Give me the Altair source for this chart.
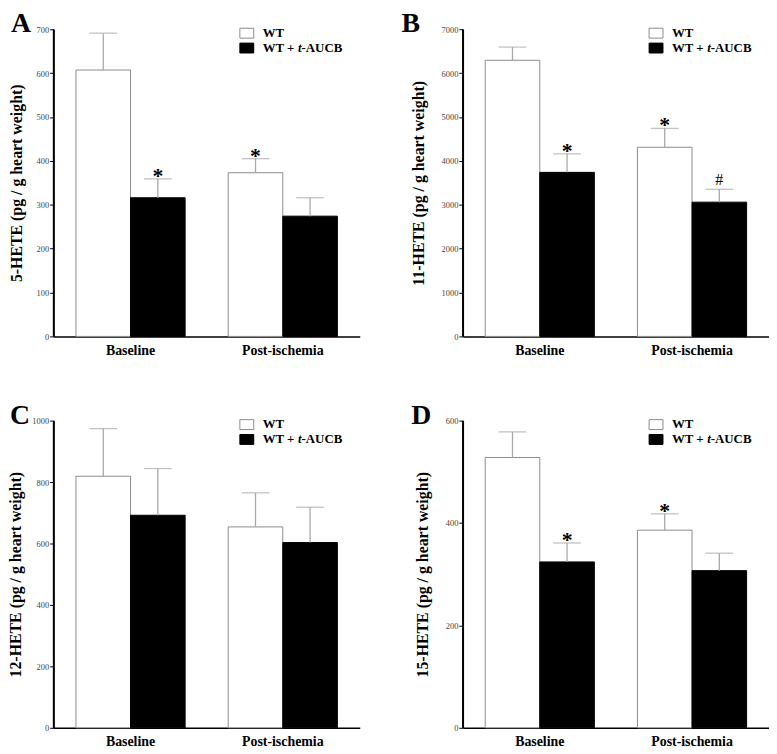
import altair as alt
import pandas as pd

SERIF = "Liberation Serif"

categories = ["Baseline", "Post-ischemia"]
groups = ["WT", "WT + t-AUCB"]

# Panel A: 5-HETE
a_wt = [607, 373]
a_wt_sem = [84, 32]
a_tr = [316, 274]
a_tr_sem = [43, 42]
a_sig_wt = ["", "*"]
a_sig_tr = ["*", ""]

# Panel B: 11-HETE
b_wt = [6292, 4310]
b_wt_sem = [302, 430]
b_tr = [3738, 3059]
b_tr_sem = [422, 294]
b_sig_wt = ["", "*"]
b_sig_tr = ["*", "#"]

# Panel C: 12-HETE
c_wt = [819, 654]
c_wt_sem = [155, 111]
c_tr = [692, 603]
c_tr_sem = [152, 115]
c_sig_wt = ["", ""]
c_sig_tr = ["", ""]

# Panel D: 15-HETE
d_wt = [528, 386]
d_wt_sem = [50, 32]
d_tr = [324, 307]
d_tr_sem = [37, 34]
d_sig_wt = ["", "*"]
d_sig_tr = ["*", ""]


def make_df(wt, wt_sem, tr, tr_sem, sig_wt, sig_tr):
    rows = []
    for i, cat in enumerate(categories):
        rows.append({"category": cat, "group": groups[0], "mean": wt[i],
                     "top": wt[i] + wt_sem[i], "sig": sig_wt[i]})
        rows.append({"category": cat, "group": groups[1], "mean": tr[i],
                     "top": tr[i] + tr_sem[i], "sig": sig_tr[i]})
    return pd.DataFrame(rows)


one = pd.DataFrame({"k": [0]})


def panel(df, letter, letter_dx, ytitle, ymax, ystep, title_pad):
    xenc = alt.X(
        "category:N", sort=categories,
        scale=alt.Scale(domain=categories, paddingInner=0.283, paddingOuter=0.147),
        axis=alt.Axis(title=None, labelAngle=0, ticks=False, labelPadding=7,
                      domain=True, domainColor="black", domainWidth=1.5),
    )
    xoff = alt.XOffset("group:N", sort=groups,
                       scale=alt.Scale(domain=groups, paddingInner=0, paddingOuter=0))
    yscale = alt.Scale(domain=[0, ymax], nice=False, zero=True)
    yaxis = alt.Axis(values=list(range(0, ymax + 1, ystep)), format="d", title=ytitle,
                     titlePadding=title_pad, domain=True, domainColor="black",
                     domainWidth=1.5, domainOpacity=1, ticks=True, tickColor="black")
    base = alt.Chart(df).encode(x=xenc, xOffset=xoff)
    bars = base.mark_bar(strokeWidth=1).encode(
        y=alt.Y("mean:Q", scale=yscale, axis=yaxis),
        fill=alt.Fill("group:N", scale=alt.Scale(domain=groups, range=["white", "black"]), legend=None),
        stroke=alt.Stroke("group:N", scale=alt.Scale(domain=groups, range=["#8c8c8c", "black"]), legend=None),
    )
    rules = base.mark_rule(color="#a8a8a8", strokeWidth=1.3).encode(
        y=alt.Y("mean:Q", scale=yscale, axis=yaxis), y2="top:Q")
    caps = base.mark_tick(color="#a8a8a8", thickness=1.3, size=28).encode(
        y=alt.Y("top:Q", scale=yscale, axis=yaxis))
    stars = base.transform_filter("datum.sig == '*'").mark_text(
        font=SERIF, fontSize=22, fontWeight="bold", baseline="alphabetic", dy=4, color="black"
    ).encode(y=alt.Y("top:Q", scale=yscale, axis=yaxis), text="sig:N")
    hashes = base.transform_filter("datum.sig == '#'").mark_text(
        font=SERIF, fontSize=16, fontWeight="normal", baseline="alphabetic", dy=-4, color="black"
    ).encode(y=alt.Y("top:Q", scale=yscale, axis=yaxis), text="sig:N")

    lg = alt.Chart(one)
    # y-axis line (drawn through the y scale, from 0 to the axis maximum)
    yline = lg.mark_rule(color="black", strokeWidth=1.5).encode(
        x=alt.value(0), y=alt.datum(0), y2=alt.datum(ymax))
    sw1 = lg.mark_rect(fill="white", stroke="#8c8c8c", strokeWidth=1).encode(
        x=alt.value(188), x2=alt.value(202), y=alt.value(-1), y2=alt.value(9))
    sw2 = lg.mark_rect(fill="black", stroke="black", strokeWidth=1).encode(
        x=alt.value(188), x2=alt.value(202), y=alt.value(14), y2=alt.value(24))
    tstyle = dict(font=SERIF, fontSize=13, fontWeight="bold", align="left",
                  baseline="alphabetic", color="black")
    t1 = lg.mark_text(text="WT", **tstyle).encode(x=alt.value(211), y=alt.value(7.5))
    t2 = lg.mark_text(text="WT + ", **tstyle).encode(x=alt.value(211), y=alt.value(23))
    t3 = lg.mark_text(text="t", fontStyle="italic", **tstyle).encode(x=alt.value(246.6), y=alt.value(23))
    t4 = lg.mark_text(text="-AUCB", **tstyle).encode(x=alt.value(250.2), y=alt.value(23))
    let = lg.mark_text(text=letter, font=SERIF, fontSize=28, fontWeight="bold",
                       align="left", baseline="alphabetic", color="black").encode(
        x=alt.value(letter_dx), y=alt.value(3))

    return alt.layer(bars, rules, caps, stars, hashes, yline, sw1, sw2, t1, t2, t3, t4, let).properties(
        width=309, height=310)


pA = panel(make_df(a_wt, a_wt_sem, a_tr, a_tr_sem, a_sig_wt, a_sig_tr), "A", -43,
           "5-HETE (pg / g heart weight)", 700, 100, 12)
pB = panel(make_df(b_wt, b_wt_sem, b_tr, b_tr_sem, b_sig_wt, b_sig_tr), "B", -62,
           "11-HETE (pg / g heart weight)", 7000, 1000, 15)
pC = panel(make_df(c_wt, c_wt_sem, c_tr, c_tr_sem, c_sig_wt, c_sig_tr), "C", -44,
           "12-HETE (pg / g heart weight)", 1000, 200, 8)
pD = panel(make_df(d_wt, d_wt_sem, d_tr, d_tr_sem, d_sig_wt, d_sig_tr), "D", -52,
           "15-HETE (pg / g heart weight)", 600, 200, 15)

chart = (
    alt.concat(pA, pB, pC, pD, columns=2, spacing={"row": 85, "column": 104}, bounds="flush")
    .properties(padding={"top": -1, "left": 0, "right": 0, "bottom": 0})
    .configure_view(stroke=None)
    .configure_axis(grid=False, domainColor="black", domainWidth=1.5, domainOpacity=1)
    .configure_axisY(tickColor="black", tickSize=4, tickWidth=1, tickOpacity=1,
                     labelFont=SERIF, labelFontSize=8.5, labelColor="#444", labelPadding=1,
                     titleFont=SERIF, titleFontSize=16, titleFontWeight="bold", titleColor="black")
    .configure_axisX(labelFont=SERIF, labelFontSize=14, labelFontWeight="bold",
                     labelColor="black")
)

chart.save("out.html", embed_options={"renderer": "svg", "actions": False})
